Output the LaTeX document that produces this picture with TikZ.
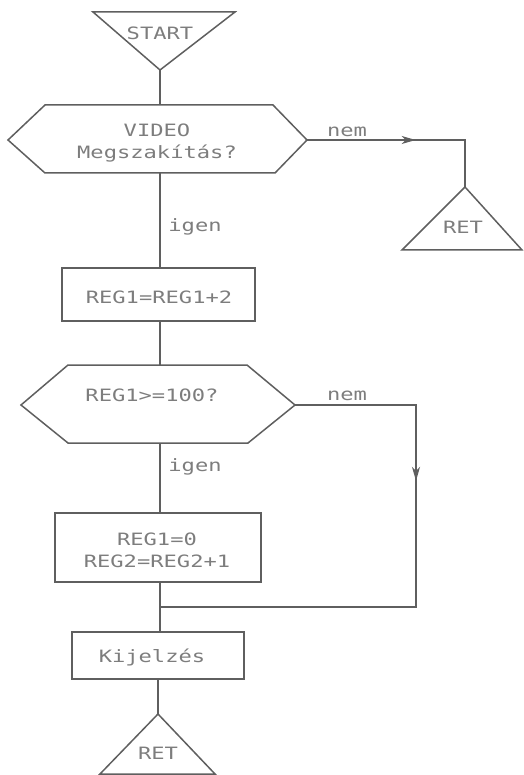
\documentclass[tikz,border=0pt]{standalone}
\usepackage{fontspec}
\usetikzlibrary{arrows.meta,decorations.markings}
\newfontfamily\plotfont[FakeStretch=1.3]{DejaVu Sans Mono}
\definecolor{linec}{RGB}{95,95,95}
\definecolor{textc}{RGB}{125,125,125}
\tikzset{
  lbl/.style={font=\plotfont\fontsize{17}{22}\selectfont, text=textc, inner sep=0pt, align=center},
  shapeline/.style={draw=linec, line width=1.5pt, line join=miter},
  conn/.style={draw=linec, line width=1.5pt},
  midarrow/.style={postaction={decorate}, decoration={markings, mark=at position #1 with {\arrow{Stealth[length=14pt,width=8pt,inset=4pt]}}}}
}
\begin{document}
\begin{tikzpicture}[x=1pt,y=-1pt]
\useasboundingbox (0,0) rectangle (523,775);
% START triangle
\coordinate (s1) at (93,12); \coordinate (s2) at (235,12); \coordinate (sA) at (160,70);
\draw[shapeline] (s1) -- (s2) -- (sA) -- cycle;
\node[lbl] (start) at (160,33) {START};
% hexagon 1
\coordinate (h1L) at (8,140); \coordinate (h1TL) at (45,105); \coordinate (h1TR) at (273,105);
\coordinate (h1R) at (307,140); \coordinate (h1BR) at (275,173); \coordinate (h1BL) at (45,173);
\coordinate (h1T) at (160,105); \coordinate (h1B) at (160,173);
\draw[shapeline] (h1L) -- (h1TL) -- (h1TR) -- (h1R) -- (h1BR) -- (h1BL) -- cycle;
\node[lbl] (video) at (157,143) {VIDEO\\Megszakítás?};
% RET right
\coordinate (r1A) at (465,187); \coordinate (r1R) at (522,250); \coordinate (r1L) at (402,250);
\draw[shapeline] (r1A) -- (r1R) -- (r1L) -- cycle;
\node[lbl] (ret1) at (463,227) {RET};
\coordinate (c1) at (465,140);
\draw[conn, midarrow=0.53] (h1R) -- (c1) -- (r1A);
\node[lbl] (nem1) at (347,132) {nem};
\draw[conn] (sA) -- (h1T);
% box 1
\node[shapeline, minimum width=193pt, minimum height=53pt, inner sep=0pt] (b1) at (158.5,294.5) {};
\node[lbl] (b1t) at (159,297) {REG1=REG1+2};
\draw[conn] (h1B) -- (b1.north -| h1B);
\node[lbl] (igen1) at (195,227) {igen};
% hexagon 2
\coordinate (h2L) at (21,405); \coordinate (h2TL) at (68,365); \coordinate (h2TR) at (247,365);
\coordinate (h2R) at (295,405); \coordinate (h2BR) at (248,443); \coordinate (h2BL) at (68,443);
\coordinate (h2T) at (160,365); \coordinate (h2B) at (160,443);
\draw[shapeline] (h2L) -- (h2TL) -- (h2TR) -- (h2R) -- (h2BR) -- (h2BL) -- cycle;
\node[lbl] (q2) at (152,395) {REG1>=100?};
\draw[conn] (b1.south -| h2T) -- (h2T);
% box 2
\node[shapeline, minimum width=206pt, minimum height=69pt, inner sep=0pt] (b2) at (158,547.5) {};
\node[lbl] (b2t) at (157,550) {REG1=0\\REG2=REG2+1};
\draw[conn] (h2B) -- (b2.north -| h2B);
\node[lbl] (igen2) at (195,467) {igen};
% box 3
\node[shapeline, minimum width=172pt, minimum height=47pt, inner sep=0pt] (b3) at (158,655.5) {};
\node[lbl] (b3t) at (152,657) {Kijelzés};
\coordinate (j) at (160,607);
\draw[conn] (b2.south -| j) -- (j) -- (b3.north -| j);
% nem branch
\coordinate (c2) at (416,405); \coordinate (c3) at (416,607);
\draw[conn, midarrow=0.34] (h2R) -- (c2) -- (c3) -- (j);
\node[lbl] (nem2) at (347,396) {nem};
% bottom RET
\coordinate (r2A) at (158,714); \coordinate (r2R) at (215,774); \coordinate (r2L) at (100,774);
\draw[shapeline] (r2A) -- (r2R) -- (r2L) -- cycle;
\node[lbl] (ret2) at (158,753) {RET};
\draw[conn] (b3.south -| r2A) -- (r2A);
\end{tikzpicture}
\end{document}
